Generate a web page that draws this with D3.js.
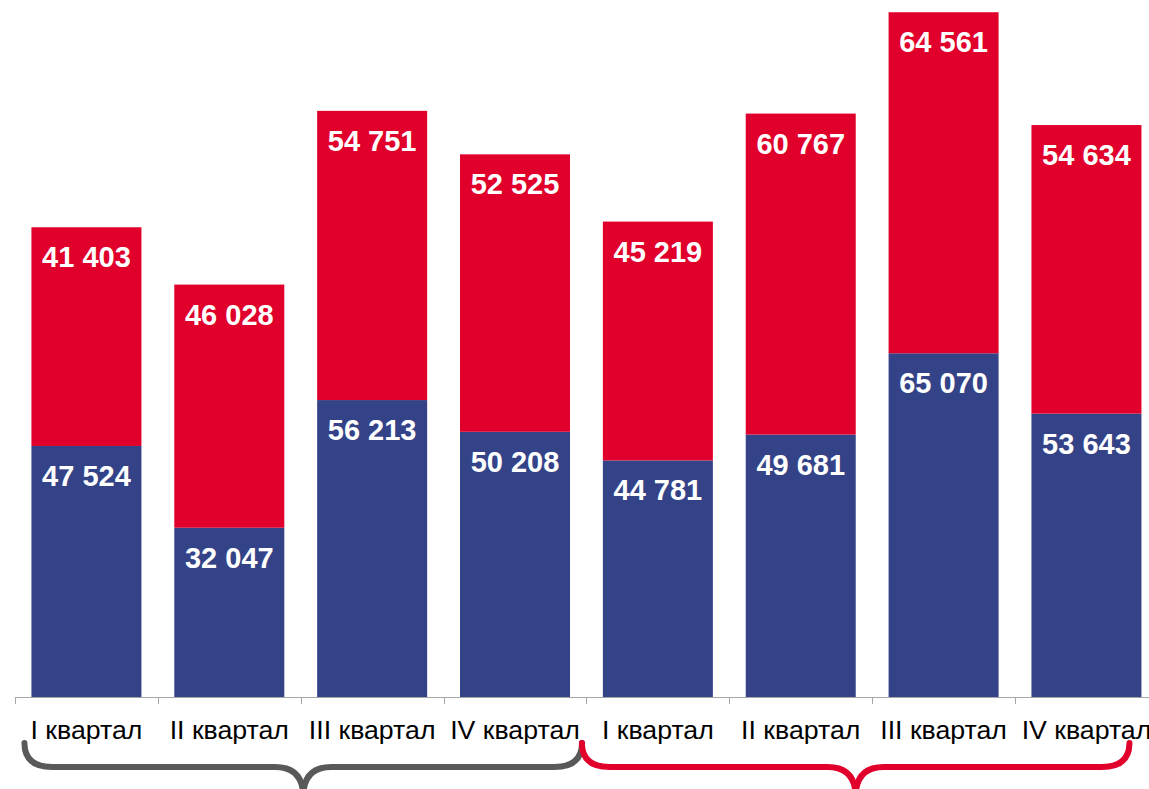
<!DOCTYPE html>
<html>
<head>
<meta charset="utf-8">
<script src="https://cdn.jsdelivr.net/npm/d3@7"></script>
<style>
  body { margin: 0; background: #fff; }
  svg { display: block; font-family: "Liberation Sans", Arial, sans-serif; }
</style>
</head>
<body>
<div id="chart"></div>
<script>
// quarterly values, two years side by side
var categories = ["I квартал", "II квартал", "III квартал", "IV квартал",
                  "I квартал", "II квартал", "III квартал", "IV квартал"];
var blueValues = [47524, 32047, 56213, 50208, 44781, 49681, 65070, 53643];
var redValues  = [41403, 46028, 54751, 52525, 45219, 60767, 64561, 54634];

var W = 1149, H = 789;
var baseY = 697;
var blue = "#344388", red = "#e0002b";

var fmt = d3.formatLocale({decimal: ",", thousands: " ", grouping: [3], currency: ["", ""]}).format(",");

var svg = d3.select("#chart").append("svg")
  .attr("width", W)
  .attr("height", H);

var x = d3.scaleBand()
  .domain(d3.range(categories.length))
  .range([15, 15 + 142.86 * categories.length])
  .paddingInner(0.23)
  .paddingOuter(0.115);

var step = x.step();
var bandStart = function(i) { return x.range()[0] + i * step; };

var y = d3.scaleLinear()
  .domain([0, 131950])
  .range([baseY, 0]);

// stacked data
var stacked = categories.map(function(c, i) {
  return {i: i, b: blueValues[i], r: redValues[i]};
});

var bars = svg.selectAll("g.bar")
  .data(stacked)
  .enter()
  .append("g")
  .attr("class", "bar");

bars.append("rect")
  .attr("x", function(d) { return x(d.i); })
  .attr("y", function(d) { return y(d.b); })
  .attr("width", x.bandwidth())
  .attr("height", function(d) { return baseY - y(d.b); })
  .attr("fill", blue);

bars.append("rect")
  .attr("x", function(d) { return x(d.i); })
  .attr("y", function(d) { return y(d.b + d.r); })
  .attr("width", x.bandwidth())
  .attr("height", function(d) { return y(d.b) - y(d.b + d.r); })
  .attr("fill", red);

// value labels
bars.append("text")
  .attr("x", function(d) { return x(d.i) + x.bandwidth() / 2; })
  .attr("y", function(d) { return y(d.b) + 40; })
  .attr("text-anchor", "middle")
  .attr("font-size", 29)
  .attr("font-weight", "bold")
  .attr("fill", "#fff")
  .text(function(d) { return fmt(d.b); });

bars.append("text")
  .attr("x", function(d) { return x(d.i) + x.bandwidth() / 2; })
  .attr("y", function(d) { return y(d.b + d.r) + 40; })
  .attr("text-anchor", "middle")
  .attr("font-size", 29)
  .attr("font-weight", "bold")
  .attr("fill", "#fff")
  .text(function(d) { return fmt(d.r); });

// axis line with ticks between categories
svg.append("line")
  .attr("x1", x.range()[0]).attr("x2", x.range()[1])
  .attr("y1", baseY + 0.5).attr("y2", baseY + 0.5)
  .attr("stroke", "#a6a6a6").attr("stroke-width", 1);

svg.selectAll("line.tick")
  .data(d3.range(categories.length + 1))
  .enter()
  .append("line")
  .attr("class", "tick")
  .attr("x1", function(i) { return Math.round(bandStart(i)) + 0.5; })
  .attr("x2", function(i) { return Math.round(bandStart(i)) + 0.5; })
  .attr("y1", baseY)
  .attr("y2", baseY + 7)
  .attr("stroke", "#a6a6a6");

// category labels
svg.selectAll("text.cat")
  .data(categories)
  .enter()
  .append("text")
  .attr("class", "cat")
  .attr("x", function(d, i) { return x(i) + x.bandwidth() / 2; })
  .attr("y", 739)
  .attr("text-anchor", "middle")
  .attr("font-size", 26.7)
  .attr("fill", "#000")
  .text(function(d) { return d; });

// curly braces grouping the two years
var braces = [
  {from: 0, to: 3, color: "#595959", left: -7, right: 12},
  {from: 4, to: 7, color: "#e0002b", left: -21, right: -12}
];

function bracePath(x0, x1) {
  var yT = 743, yM = 767, yC = 797, r = 28;
  var xc = (x0 + x1) / 2;
  return "M" + x0 + "," + yT +
    " Q" + x0 + "," + yM + " " + (x0 + r) + "," + yM +
    " L" + (xc - r) + "," + yM +
    " Q" + xc + "," + yM + " " + xc + "," + yC +
    " Q" + xc + "," + yM + " " + (xc + r) + "," + yM +
    " L" + (x1 - r) + "," + yM +
    " Q" + x1 + "," + yM + " " + x1 + "," + yT;
}

svg.selectAll("path.brace")
  .data(braces)
  .enter()
  .append("path")
  .attr("class", "brace")
  .attr("d", function(b) {
    return bracePath(x(b.from) + b.left, x(b.to) + x.bandwidth() + b.right);
  })
  .attr("fill", "none")
  .attr("stroke", function(b) { return b.color; })
  .attr("stroke-width", 6)
  .attr("stroke-linecap", "round");
</script>
</body>
</html>
